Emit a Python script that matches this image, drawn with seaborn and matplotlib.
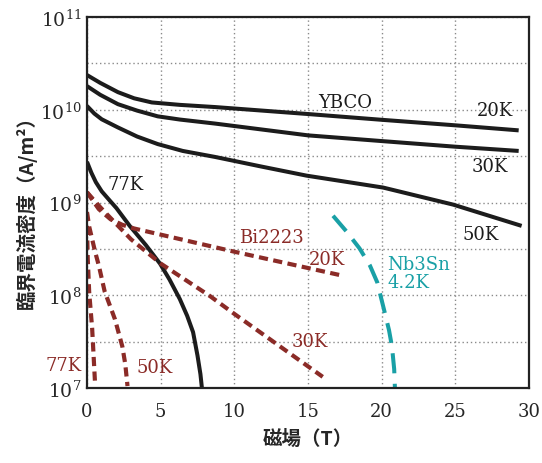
import pandas as pd
import matplotlib
matplotlib.use('Agg')
import matplotlib.pyplot as plt
import seaborn as sns

# critical current density (A/m^2) vs magnetic field (T)
ybco20_x = [0, 0.9, 2.1, 3.2, 4.4, 6.3, 8.7, 15, 20, 25, 29.3]
ybco20_y = [2.37e10, 1.95e10, 1.55e10, 1.33e10, 1.2e10, 1.13e10, 1.07e10, 9.0e9, 7.8e9, 6.8e9, 6.0e9]
ybco30_x = [0, 0.9, 2.1, 3.4, 4.8, 6.3, 8.7, 15, 20, 25, 29.3]
ybco30_y = [1.8e10, 1.45e10, 1.15e10, 9.8e9, 8.5e9, 7.85e9, 7.1e9, 5.3e9, 4.6e9, 4.0e9, 3.6e9]
ybco50_x = [0, 0.5, 1, 2.1, 3.4, 4.8, 6.5, 8.7, 11.8, 14.9, 20.1, 24.85, 29.5]
ybco50_y = [1.1e10, 9.1e9, 7.9e9, 6.45e9, 5.15e9, 4.27e9, 3.6e9, 3.1e9, 2.45e9, 1.95e9, 1.45e9, 9.5e8, 5.6e8]
ybco77_x = [0, 0.3, 0.6, 1, 1.5, 2, 2.9, 4, 4.96, 5.6, 6.3, 6.8, 7.2, 7.5, 7.7, 7.8]
ybco77_y = [2.75e9, 2.09e9, 1.66e9, 1.32e9, 1.07e9, 8.7e8, 5.6e8, 3.47e8, 2.19e8, 1.48e8, 9.1e7,
            6.0e7, 4.0e7, 2.24e7, 1.41e7, 1.0e7]

bi20_x = [0, 0.8, 1.6, 2.4, 3.2, 10, 17.4]
bi20_y = [1.29e9, 8.5e8, 6.6e8, 5.75e8, 5.25e8, 2.95e8, 1.62e8]
bi30_x = [0, 0.9, 1.8, 3, 5, 8.35, 10, 16]
bi30_y = [1.29e9, 8.9e8, 6.3e8, 4.0e8, 2.2e8, 9.8e7, 6.3e7, 1.32e7]
bi50_x = [0, 0.15, 0.55, 0.8, 1.2, 1.9, 2.4, 2.6, 2.75]
bi50_y = [7.9e8, 5.5e8, 2.95e8, 2.1e8, 1.1e8, 5.5e7, 2.8e7, 1.8e7, 1.05e7]
bi77_x = [0, 0.05, 0.15, 0.35, 0.55]
bi77_y = [5.6e8, 2.5e8, 1.07e8, 4.4e7, 1.1e7]

nb_x = [16.7, 17.6, 18.5, 19.2, 19.7, 20.2, 20.5, 20.7, 20.85, 20.9]
nb_y = [7.2e8, 4.9e8, 3.2e8, 2.1e8, 1.38e8, 6.6e7, 4.2e7, 2.8e7, 1.6e7, 1.0e7]

x_ticks = [0, 5, 10, 15, 20, 25, 30]
y_ticks = [1e7, 1e8, 1e9, 1e10, 1e11]
y_ticklabels = ['$10^{7}$', '$10^{8}$', '$10^{9}$', '$10^{10}$', '$10^{11}$']

black = '#1c1c1c'
red = '#8b2b27'
teal = '#19a0a6'

sns.set_style('white')
plt.rcParams['font.family'] = ['DejaVu Serif']
plt.rcParams['mathtext.fontset'] = 'dejavuserif'

fig = plt.figure(figsize=(5.42, 4.64), dpi=100)
ax = fig.add_axes([0.1605, 0.1616, 0.8155, 0.7995])

for xs, ys in [(ybco20_x, ybco20_y), (ybco30_x, ybco30_y), (ybco50_x, ybco50_y), (ybco77_x, ybco77_y)]:
    df = pd.DataFrame({'B': xs, 'Jc': ys})
    sns.lineplot(data=df, x='B', y='Jc', ax=ax, color=black, lw=2.9, sort=False,
                 solid_capstyle='butt', solid_joinstyle='round', estimator=None)

for xs, ys in [(bi20_x, bi20_y), (bi30_x, bi30_y), (bi50_x, bi50_y), (bi77_x, bi77_y)]:
    df = pd.DataFrame({'B': xs, 'Jc': ys})
    sns.lineplot(data=df, x='B', y='Jc', ax=ax, color=red, lw=3.0, sort=False,
                 linestyle=(0, (2.2, 1.3)), estimator=None)

df = pd.DataFrame({'B': nb_x, 'Jc': nb_y})
sns.lineplot(data=df, x='B', y='Jc', ax=ax, color=teal, lw=2.9, sort=False,
             linestyle=(0, (5, 2.6)), estimator=None)

ax.set_yscale('log')
ax.set_xlim(0, 30)
ax.set_ylim(1e7, 1e11)
ax.set_xticks(x_ticks)
ax.set_xticklabels([str(t) for t in x_ticks], fontsize=13)
ax.set_yticks(y_ticks)
ax.set_yticklabels(y_ticklabels, fontsize=13.5)
ax.yaxis.set_minor_locator(matplotlib.ticker.FixedLocator([10 ** 7.5, 10 ** 8.5, 10 ** 9.5, 10 ** 10.5]))
ax.yaxis.set_minor_formatter(matplotlib.ticker.NullFormatter())
ax.tick_params(axis='both', which='both', length=0)
ax.tick_params(axis='x', pad=10)
ax.tick_params(axis='y', pad=4)
ax.grid(True, which='both', color='#8a8a8a', lw=1, linestyle=(0, (1, 2)))
for s in ax.spines.values():
    s.set_color('#222222')
    s.set_linewidth(1.6)

ax.set_xlabel('磁場（T）', family=['Noto Sans CJK JP', 'DejaVu Serif'], fontsize=14,
              fontweight='bold', labelpad=6)
ax.set_ylabel('臨界電流密度（A/m²）', family=['Noto Sans CJK JP', 'DejaVu Serif'], fontsize=14,
              fontweight='bold')
ax.yaxis.set_label_coords(-0.113, 0.49)

lab = dict(fontsize=13, ha='center', va='center')
ax.text(17.5, 10 ** 10.08, 'YBCO', color=black, **lab)
ax.text(27.7, 10 ** 10.0, '20K', color=black, **lab)
ax.text(27.35, 10 ** 9.39, '30K', color=black, **lab)
ax.text(26.7, 10 ** 8.66, '50K', color=black, **lab)
ax.text(2.6, 10 ** 9.2, '77K', color=black, **lab)
ax.text(12.5, 10 ** 8.63, 'Bi2223', color=red, **lab)
ax.text(16.3, 10 ** 8.39, '20K', color=red, **lab)
ax.text(15.1, 10 ** 7.51, '30K', color=red, **lab)
ax.text(4.6, 10 ** 7.23, '50K', color=red, **lab)
ax.text(-1.6, 10 ** 7.25, '77K', color=red, clip_on=False, **lab)
ax.text(20.4, 10 ** 8.34, 'Nb3Sn', color=teal, fontsize=13, ha='left', va='center')
ax.text(20.4, 10 ** 8.14, '4.2K', color=teal, fontsize=13, ha='left', va='center')

fig.savefig('out.png', dpi=100)
